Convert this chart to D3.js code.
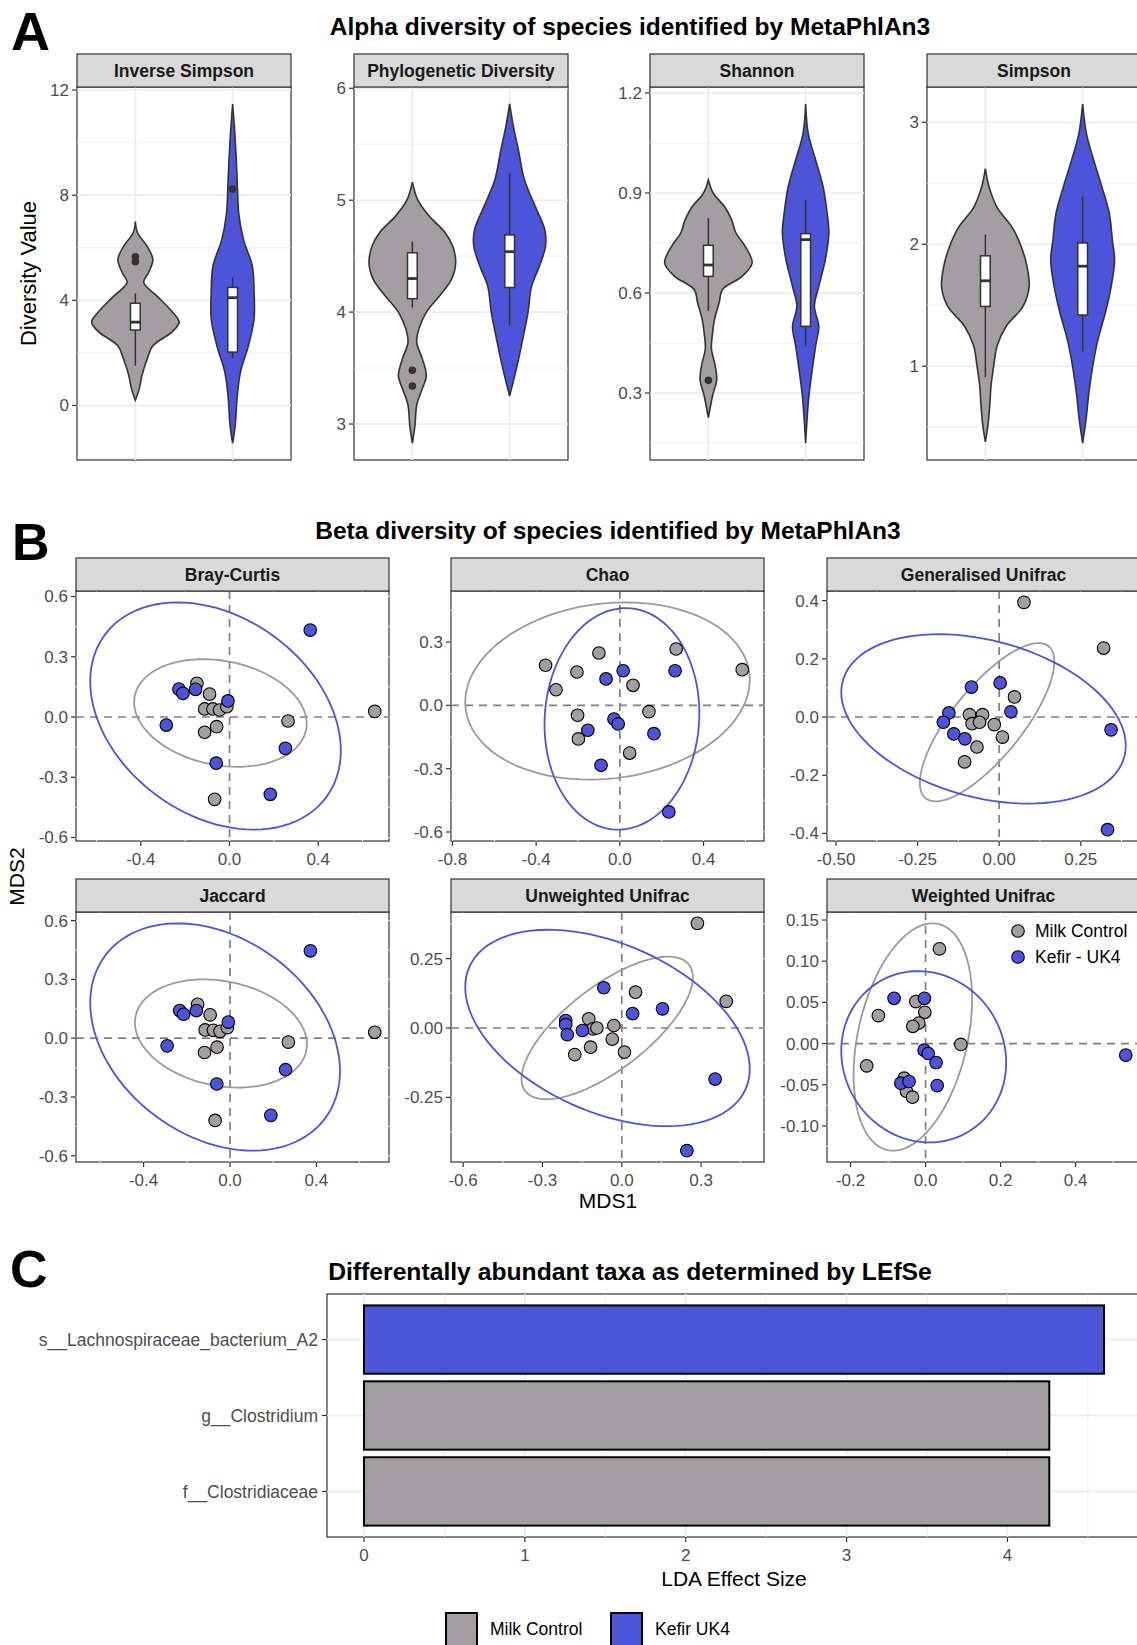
<!DOCTYPE html>
<html>
<head>
<meta charset="utf-8">
<script src="https://cdn.jsdelivr.net/npm/d3@7"></script>
<style>
body { margin: 0; background: #fff; }
text { font-family: "Liberation Sans", Arial, sans-serif; }
</style>
</head>
<body>
<div id="canvas"></div>
<script>
"use strict"

/* ---------- data ---------- */

let groups = ["Milk Control", "Kefir - UK4"];

/* A: alpha diversity */
let alphaMetrics = ["Inverse Simpson", "Phylogenetic Diversity", "Shannon", "Simpson"];
let alphaTicks = [[0, 4, 8, 12], [3, 4, 5, 6], [0.3, 0.6, 0.9, 1.2], [1, 2, 3]];

/* violin outlines: [value, relative density] */
let violinMilk = [
    [[7.0,0],[6.57,0.05],[6.05,0.27],[5.55,0.40],[5.05,0.30],[4.68,0.19],[4.15,0.50],[3.55,0.85],[3.17,1.0],[2.8,0.84],[2.27,0.40],[1.77,0.27],[1.14,0.15],[0.64,0.09],[0.2,0]],
    [[5.16,0],[5.0,0.125],[4.86,0.38],[4.71,0.75],[4.59,0.92],[4.44,0.99],[4.29,0.89],[4.14,0.61],[4.0,0.32],[3.85,0.15],[3.73,0.10],[3.58,0.23],[3.43,0.32],[3.32,0.23],[3.17,0.10],[2.99,0.06],[2.83,0]],
    [[0.939,0],[0.9,0.11],[0.858,0.375],[0.82,0.53],[0.78,0.63],[0.74,0.84],[0.69,1.0],[0.65,0.77],[0.61,0.32],[0.573,0.25],[0.523,0.145],[0.473,0.09],[0.433,0.07],[0.383,0.155],[0.339,0.19],[0.294,0.10],[0.226,0]],
    [[2.62,0],[2.47,0.085],[2.30,0.27],[2.14,0.61],[1.98,0.82],[1.82,0.95],[1.65,1.0],[1.49,0.86],[1.33,0.48],[1.17,0.27],[1.0,0.19],[0.84,0.13],[0.68,0.10],[0.52,0.06],[0.38,0]]
];
let violinKefir = [
    [[11.47,0],[10.34,0.05],[9.3,0.085],[8.3,0.11],[7.3,0.14],[6.3,0.25],[5.3,0.45],[4.3,0.49],[3.3,0.49],[2.27,0.36],[1.28,0.18],[0.26,0.10],[-0.75,0.06],[-1.43,0]],
    [[5.86,0],[5.65,0.09],[5.45,0.2],[5.18,0.34],[4.94,0.59],[4.74,0.80],[4.59,0.82],[4.41,0.68],[4.23,0.5],[4.0,0.42],[3.76,0.30],[3.52,0.17],[3.25,0]],
    [[1.167,0],[1.078,0.06],[0.998,0.23],[0.918,0.40],[0.84,0.49],[0.78,0.53],[0.70,0.45],[0.62,0.30],[0.56,0.20],[0.50,0.30],[0.443,0.23],[0.365,0.145],[0.285,0.07],[0.15,0]],
    [[3.15,0],[2.9,0.09],[2.68,0.26],[2.47,0.44],[2.25,0.61],[2.03,0.68],[1.87,0.73],[1.65,0.65],[1.44,0.52],[1.22,0.35],[1.0,0.23],[0.79,0.145],[0.57,0.08],[0.37,0]]
];

/* box stats: [lower whisker, q1, median, q3, upper whisker] */
let boxMilk = [[1.51, 2.87, 3.17, 3.89, 4.26], [4.04, 4.12, 4.3, 4.53, 4.63], [0.546, 0.65, 0.684, 0.743, 0.825], [0.91, 1.49, 1.70, 1.905, 2.08]];
let boxKefir = [[1.8, 2.03, 4.1, 4.49, 4.87], [3.88, 4.22, 4.54, 4.69, 5.24], [0.44, 0.5, 0.76, 0.778, 0.879], [1.12, 1.42, 1.82, 2.01, 2.39]];
let outliersMilk = [[5.47, 5.66], [3.34, 3.48], [0.338], []];
let outliersKefir = [[8.23], [], [], []];

/* B: beta diversity ordinations */
let betaMethods = ["Bray-Curtis", "Chao", "Generalised Unifrac", "Jaccard", "Unweighted Unifrac", "Weighted Unifrac"];
let betaMilk = [
    [[0.655,0.028],[0.264,-0.02],[-0.067,-0.41],[-0.112,-0.076],[-0.058,-0.048],[-0.112,0.04],[-0.075,0.04],[-0.045,0.035],[-0.012,0.051],[-0.09,0.114],[-0.147,0.168]],
    [[-0.355,0.19],[-0.305,0.074],[-0.205,0.158],[-0.1,0.248],[0.269,0.267],[0.585,0.169],[0.063,0.095],[-0.202,-0.047],[-0.198,-0.159],[0.139,-0.03],[0.047,-0.226]],
    [[0.076,0.394],[0.32,0.237],[0.047,0.069],[-0.091,0.008],[-0.051,0.008],[-0.083,-0.023],[-0.06,-0.018],[-0.015,-0.026],[0.01,-0.069],[-0.068,-0.103],[-0.106,-0.154]],
    [[0.67,0.03],[0.27,-0.02],[-0.069,-0.42],[-0.118,-0.073],[-0.06,-0.046],[-0.115,0.042],[-0.077,0.04],[-0.046,0.035],[-0.012,0.054],[-0.092,0.119],[-0.15,0.173]],
    [[0.286,0.377],[0.395,0.096],[0.052,0.129],[-0.03,0.009],[-0.125,0.033],[-0.109,-0.003],[-0.094,0],[-0.036,-0.04],[-0.118,-0.069],[-0.178,-0.096],[0.01,-0.087]],
    [[0.037,0.115],[-0.126,0.034],[-0.026,0.051],[-0.002,0.038],[-0.018,0.025],[-0.034,0.021],[0.094,-0.001],[-0.157,-0.027],[-0.057,-0.042],[-0.051,-0.058],[-0.035,-0.065]]
];
let betaKefir = [
    [[0.364,0.433],[-0.228,0.139],[-0.21,0.118],[-0.153,0.138],[-0.007,0.08],[-0.285,-0.04],[0.252,-0.156],[-0.06,-0.23],[0.184,-0.385]],
    [[0.016,0.164],[-0.066,0.125],[-0.028,-0.065],[-0.008,-0.088],[-0.153,-0.118],[0.163,-0.134],[-0.09,-0.284],[0.264,0.164],[0.234,-0.505]],
    [[0.003,0.117],[-0.085,0.103],[-0.154,0.014],[-0.171,-0.018],[-0.139,-0.058],[-0.105,-0.075],[0.036,0.018],[0.343,-0.044],[0.332,-0.387]],
    [[0.372,0.446],[-0.233,0.141],[-0.215,0.122],[-0.156,0.141],[-0.008,0.082],[-0.291,-0.039],[0.257,-0.161],[-0.061,-0.234],[0.189,-0.394]],
    [[-0.068,0.145],[0.041,0.052],[0.154,0.069],[-0.212,0.027],[-0.212,0.012],[-0.206,-0.024],[-0.149,-0.009],[0.353,-0.184],[0.246,-0.442]],
    [[-0.084,0.055],[-0.003,0.055],[-0.004,-0.008],[0.007,-0.012],[0.028,-0.023],[-0.066,-0.048],[-0.044,-0.046],[0.031,-0.051],[0.534,-0.014]]
];
/* confidence ellipses: [centre x, centre y, half-width x, half-height y, correlation] */
let ellipseMilk = [[-0.041,0.02,0.389,0.268,-0.2], [-0.059,0.068,0.68,0.42,0.126], [-0.037,-0.018,0.206,0.272,0.765],
                   [-0.042,0.024,0.398,0.276,-0.2], [-0.055,0.0,0.324,0.257,0.71], [-0.034,0.008,0.158,0.138,0.333]];
let ellipseKefir = [[-0.063,0.005,0.565,0.566,-0.304], [0.01,-0.064,0.37,0.525,0.05], [-0.048,-0.0065,0.436,0.291,-0.315],
                    [-0.069,0.006,0.578,0.58,-0.3], [-0.054,0.0,0.538,0.354,-0.416], [-0.005,-0.016,0.22,0.104,-0.068]];
let betaXTicks = [[-0.4,0,0.4], [-0.8,-0.4,0,0.4], [-0.5,-0.25,0,0.25], [-0.4,0,0.4], [-0.6,-0.3,0,0.3], [-0.2,0,0.2,0.4]];
let betaYTicks = [[-0.6,-0.3,0,0.3,0.6], [-0.6,-0.3,0,0.3], [-0.4,-0.2,0,0.2,0.4], [-0.6,-0.3,0,0.3,0.6], [-0.25,0,0.25], [-0.1,-0.05,0,0.05,0.1,0.15]];
let betaXFormat = [".1f", ".1f", ".2f", ".1f", ".1f", ".1f"];
let betaYFormat = [".1f", ".1f", ".1f", ".1f", ".2f", ".2f"];

/* C: LEfSe */
let taxa = ["s__Lachnospiraceae_bacterium_A2", "g__Clostridium", "f__Clostridiaceae"];
let ldaScores = [4.6, 4.26, 4.26];
let taxaGroup = ["Kefir UK4", "Milk Control", "Milk Control"];
let ldaTicks = [0, 1, 2, 3, 4];
let lefseGroups = ["Milk Control", "Kefir UK4"];

/* ---------- styles ---------- */
let milkFill = "#A39EA1";
let kefirFill = "#4D54DA";
let dark = "#333333";
let tickText = "#4D4D4D";

let drawing = d3.select("#canvas")
    .append("svg")
    .attr("width", 1137)
    .attr("height", 1645);

drawing.append("rect")
    .attr("width", 1137)
    .attr("height", 1645)
    .attr("fill", "white");

function label(x, y, str, size, opts) {
    opts = opts || {};
    let t = drawing.append("text")
        .attr("x", x)
        .attr("y", y)
        .attr("font-size", size)
        .attr("fill", opts.fill || "black")
        .attr("font-weight", opts.bold ? "bold" : "normal")
        .attr("text-anchor", opts.anchor || "start")
        .text(str);
    if (opts.rotate) t.attr("transform", "rotate(-90," + x + "," + y + ")");
    if (opts.dy) t.attr("dy", opts.dy);
    return t;
}

function minorTicks(ticks, domain) {
    let step = ticks[1] - ticks[0];
    let out = [];
    for (let v = ticks[0] - step / 2; v <= domain[1] + 1e-9; v += step) {
        if (v >= domain[0]) out.push(v);
    }
    return out;
}

function strip(x, y, w, h, str) {
    drawing.append("rect")
        .attr("x", x).attr("y", y)
        .attr("width", w).attr("height", h)
        .attr("fill", "#D9D9D9")
        .attr("stroke", dark)
        .attr("stroke-width", 1.2);
    label(x + w / 2, y + h / 2, str, 17.5, {bold: true, anchor: "middle", dy: "0.36em", fill: "#1A1A1A"});
}

/* ---------- panel labels and titles ---------- */
label(11, 50, "A", 54, {bold: true});
label(12, 560, "B", 52, {bold: true});
label(10, 1287, "C", 52, {bold: true});
label(630, 35, "Alpha diversity of species identified by MetaPhlAn3", 24.5, {bold: true, anchor: "middle"});
label(608, 539, "Beta diversity of species identified by MetaPhlAn3", 24.5, {bold: true, anchor: "middle"});
label(630, 1280, "Differentally abundant taxa as determined by LEfSe", 24.7, {bold: true, anchor: "middle"});

/* ---------- A: violins ---------- */
let alphaLeft = [77, 354, 650, 927];
let aTop = 87, aBottom = 460, aWidth = 214;

function alphaPanel(i) {
    let left = alphaLeft[i];
    let x = d3.scalePoint().domain(groups).range([left, left + aWidth]).padding(0.6);
    let vals = violinMilk[i].concat(violinKefir[i]).map(d => d[0]);
    let lo = d3.min(vals), hi = d3.max(vals), pad = (hi - lo) * 0.05;
    let y = d3.scaleLinear().domain([lo - pad, hi + pad]).range([aBottom, aTop]);
    let half = x.step() * 0.45;

    drawing.append("rect")
        .attr("x", left).attr("y", aTop)
        .attr("width", aWidth).attr("height", aBottom - aTop)
        .attr("fill", "white")
        .attr("stroke", dark)
        .attr("stroke-width", 1.2);

    let grid = drawing.append("g").attr("stroke", "#EBEBEB");
    grid.selectAll(".minor")
        .data(minorTicks(alphaTicks[i], y.domain()))
        .enter().append("line")
        .attr("x1", left).attr("x2", left + aWidth)
        .attr("y1", d => y(d)).attr("y2", d => y(d))
        .attr("stroke-width", 0.8);
    grid.selectAll(".major")
        .data(alphaTicks[i])
        .enter().append("line")
        .attr("x1", left).attr("x2", left + aWidth)
        .attr("y1", d => y(d)).attr("y2", d => y(d))
        .attr("stroke-width", 1.6);
    grid.selectAll(".vert")
        .data(groups)
        .enter().append("line")
        .attr("x1", d => x(d)).attr("x2", d => x(d))
        .attr("y1", aTop).attr("y2", aBottom)
        .attr("stroke-width", 1.6);

    /* y axis */
    drawing.append("g").selectAll("line")
        .data(alphaTicks[i])
        .enter().append("line")
        .attr("x1", left - 5).attr("x2", left)
        .attr("y1", d => y(d)).attr("y2", d => y(d))
        .attr("stroke", dark)
        .attr("stroke-width", 1.2);
    drawing.append("g").selectAll("text")
        .data(alphaTicks[i])
        .enter().append("text")
        .attr("x", left - 8)
        .attr("y", d => y(d))
        .attr("dy", "0.35em")
        .attr("text-anchor", "end")
        .attr("font-size", 17)
        .attr("fill", tickText)
        .text(d => String(d));

    strip(left, 54, aWidth, aTop - 54, alphaMetrics[i]);

    let sets = [
        {g: groups[0], v: violinMilk[i], b: boxMilk[i], o: outliersMilk[i], fill: milkFill},
        {g: groups[1], v: violinKefir[i], b: boxKefir[i], o: outliersKefir[i], fill: kefirFill}
    ];
    sets.forEach(s => {
        let cx = x(s.g);
        let area = d3.area()
            .y(d => y(d[0]))
            .x0(d => cx - d[1] * half)
            .x1(d => cx + d[1] * half)
            .curve(d3.curveCatmullRom.alpha(0.5));
        drawing.append("path")
            .attr("d", area(s.v))
            .attr("fill", s.fill)
            .attr("stroke", dark)
            .attr("stroke-width", 1.6);

        let bw = x.step() * 0.1;
        drawing.append("line")
            .attr("x1", cx).attr("x2", cx)
            .attr("y1", y(s.b[0])).attr("y2", y(s.b[4]))
            .attr("stroke", dark).attr("stroke-width", 1.5);
        drawing.append("rect")
            .attr("x", cx - bw / 2).attr("width", bw)
            .attr("y", y(s.b[3])).attr("height", y(s.b[1]) - y(s.b[3]))
            .attr("fill", "white")
            .attr("stroke", dark).attr("stroke-width", 1.5);
        drawing.append("line")
            .attr("x1", cx - bw / 2).attr("x2", cx + bw / 2)
            .attr("y1", y(s.b[2])).attr("y2", y(s.b[2]))
            .attr("stroke", dark).attr("stroke-width", 2.8);
        drawing.append("g").selectAll("circle")
            .data(s.o)
            .enter().append("circle")
            .attr("cx", cx).attr("cy", d => y(d))
            .attr("r", 3.8)
            .attr("fill", dark);
    });
}
alphaMetrics.forEach((m, i) => alphaPanel(i));

label(36, (aTop + aBottom) / 2, "Diversity Value", 22, {anchor: "middle", rotate: true});

/* ---------- B: ordinations ---------- */
let betaLeft = [76, 451, 827];
let betaTop = [591, 912];
let bWidth = 313, bHeight = 250;

function ellipsePoints(e) {
    let pts = [];
    for (let k = 0; k <= 100; k++) {
        let t = 2 * Math.PI * k / 100;
        pts.push([e[0] + e[2] * Math.cos(t),
                  e[1] + e[3] * (e[4] * Math.cos(t) + Math.sqrt(1 - e[4] * e[4]) * Math.sin(t))]);
    }
    return pts;
}

function betaPanel(i) {
    let left = betaLeft[i % 3], top = betaTop[Math.floor(i / 3)];
    let ellM = ellipsePoints(ellipseMilk[i]), ellK = ellipsePoints(ellipseKefir[i]);
    let all = betaMilk[i].concat(betaKefir[i], ellM, ellK);
    let xe = d3.extent(all, d => d[0]), ye = d3.extent(all, d => d[1]);
    let xp = (xe[1] - xe[0]) * 0.05, yp = (ye[1] - ye[0]) * 0.05;
    let x = d3.scaleLinear().domain([xe[0] - xp, xe[1] + xp]).range([left, left + bWidth]);
    let y = d3.scaleLinear().domain([ye[0] - yp, ye[1] + yp]).range([top + bHeight, top]);

    drawing.append("rect")
        .attr("x", left).attr("y", top)
        .attr("width", bWidth).attr("height", bHeight)
        .attr("fill", "white")
        .attr("stroke", dark)
        .attr("stroke-width", 1.2);

    /* white grid drawn over the frame, as in the figure */
    let grid = drawing.append("g").attr("stroke", "white").attr("stroke-width", 1);
    let xg = betaXTicks[i].concat(minorTicks(betaXTicks[i], x.domain()));
    let yg = betaYTicks[i].concat(minorTicks(betaYTicks[i], y.domain()));
    grid.selectAll(".gx").data(xg).enter().append("line")
        .attr("x1", d => x(d)).attr("x2", d => x(d))
        .attr("y1", top - 0.5).attr("y2", top + bHeight + 0.5);
    grid.selectAll(".gy").data(yg).enter().append("line")
        .attr("x1", left - 0.5).attr("x2", left + bWidth + 0.5)
        .attr("y1", d => y(d)).attr("y2", d => y(d));

    /* zero reference lines */
    drawing.append("line")
        .attr("x1", x(0)).attr("x2", x(0))
        .attr("y1", top).attr("y2", top + bHeight)
        .attr("stroke", "#7F7F7F").attr("stroke-width", 1.7)
        .attr("stroke-dasharray", "8,6");
    drawing.append("line")
        .attr("x1", left).attr("x2", left + bWidth)
        .attr("y1", y(0)).attr("y2", y(0))
        .attr("stroke", "#7F7F7F").attr("stroke-width", 1.7)
        .attr("stroke-dasharray", "8,6");

    /* axes */
    let fx = d3.format(betaXFormat[i]), fy = d3.format(betaYFormat[i]);
    drawing.append("g").selectAll("line").data(betaXTicks[i]).enter().append("line")
        .attr("x1", d => x(d)).attr("x2", d => x(d))
        .attr("y1", top + bHeight).attr("y2", top + bHeight + 5)
        .attr("stroke", dark).attr("stroke-width", 1.2);
    drawing.append("g").selectAll("text").data(betaXTicks[i]).enter().append("text")
        .attr("x", d => x(d)).attr("y", top + bHeight + 23.5)
        .attr("text-anchor", "middle")
        .attr("font-size", 17).attr("fill", tickText)
        .text(d => fx(d).replace("−", "-"));
    drawing.append("g").selectAll("line").data(betaYTicks[i]).enter().append("line")
        .attr("x1", left - 5).attr("x2", left)
        .attr("y1", d => y(d)).attr("y2", d => y(d))
        .attr("stroke", dark).attr("stroke-width", 1.2);
    drawing.append("g").selectAll("text").data(betaYTicks[i]).enter().append("text")
        .attr("x", left - 8).attr("y", d => y(d))
        .attr("dy", "0.35em")
        .attr("text-anchor", "end")
        .attr("font-size", 17).attr("fill", tickText)
        .text(d => fy(d).replace("−", "-"));

    strip(left, top - 33, bWidth, 33, betaMethods[i]);

    let line = d3.line().x(d => x(d[0])).y(d => y(d[1]));
    drawing.append("path").attr("d", line(ellM))
        .attr("fill", "none").attr("stroke", "#9A9A9A").attr("stroke-width", 1.8);
    drawing.append("path").attr("d", line(ellK))
        .attr("fill", "none").attr("stroke", kefirFill).attr("stroke-width", 1.8);

    drawing.append("g").selectAll("circle").data(betaMilk[i]).enter().append("circle")
        .attr("cx", d => x(d[0])).attr("cy", d => y(d[1]))
        .attr("r", 6.3)
        .attr("fill", milkFill).attr("stroke", "black").attr("stroke-width", 1.1);
    drawing.append("g").selectAll("circle").data(betaKefir[i]).enter().append("circle")
        .attr("cx", d => x(d[0])).attr("cy", d => y(d[1]))
        .attr("r", 6.3)
        .attr("fill", kefirFill).attr("stroke", "black").attr("stroke-width", 1.1);
}
betaMethods.forEach((m, i) => betaPanel(i));

/* legend inside the Weighted Unifrac panel */
groups.forEach((g, k) => {
    drawing.append("circle")
        .attr("cx", 1018).attr("cy", 931 + k * 26)
        .attr("r", 6.3)
        .attr("fill", k === 0 ? milkFill : kefirFill)
        .attr("stroke", "black").attr("stroke-width", 1.1);
    label(1035, 937 + k * 26, g, 17.5);
});

label(608, 1208, "MDS1", 21, {anchor: "middle"});
label(23.5, 876.5, "MDS2", 21, {anchor: "middle", rotate: true});

/* ---------- C: LEfSe bars ---------- */
let cLeft = 327, cRight = 1141, cTop = 1294, cBottom = 1537;
let ldaPad = d3.max(ldaScores) * 0.05;
let xC = d3.scaleLinear().domain([-ldaPad, d3.max(ldaScores) + ldaPad]).range([cLeft, cRight]);
let yC = d3.scaleBand().domain(taxa).range([cTop, cBottom]).paddingInner(0.1).paddingOuter(0.15);
let colourC = d3.scaleOrdinal().domain(lefseGroups).range([milkFill, kefirFill]);

drawing.append("rect")
    .attr("x", cLeft).attr("y", cTop)
    .attr("width", cRight - cLeft).attr("height", cBottom - cTop)
    .attr("fill", "white")
    .attr("stroke", dark).attr("stroke-width", 1.2);

let gridC = drawing.append("g").attr("stroke", "#EBEBEB");
gridC.selectAll(".minor").data(minorTicks(ldaTicks, xC.domain())).enter().append("line")
    .attr("x1", d => xC(d)).attr("x2", d => xC(d))
    .attr("y1", cTop).attr("y2", cBottom)
    .attr("stroke-width", 0.8);
gridC.selectAll(".major").data(ldaTicks).enter().append("line")
    .attr("x1", d => xC(d)).attr("x2", d => xC(d))
    .attr("y1", cTop).attr("y2", cBottom)
    .attr("stroke-width", 1.6);
gridC.selectAll(".cat").data(taxa).enter().append("line")
    .attr("x1", cLeft).attr("x2", cRight)
    .attr("y1", d => yC(d) + yC.bandwidth() / 2).attr("y2", d => yC(d) + yC.bandwidth() / 2)
    .attr("stroke-width", 1.6);

drawing.append("g").selectAll("rect").data(taxa).enter().append("rect")
    .attr("x", xC(0))
    .attr("y", d => yC(d))
    .attr("width", (d, k) => xC(ldaScores[k]) - xC(0))
    .attr("height", yC.bandwidth())
    .attr("fill", (d, k) => colourC(taxaGroup[k]))
    .attr("stroke", "black").attr("stroke-width", 2);

drawing.append("g").selectAll("line").data(ldaTicks).enter().append("line")
    .attr("x1", d => xC(d)).attr("x2", d => xC(d))
    .attr("y1", cBottom).attr("y2", cBottom + 5)
    .attr("stroke", dark).attr("stroke-width", 1.2);
drawing.append("g").selectAll("text").data(ldaTicks).enter().append("text")
    .attr("x", d => xC(d)).attr("y", cBottom + 24)
    .attr("text-anchor", "middle")
    .attr("font-size", 17).attr("fill", tickText)
    .text(d => String(d));
drawing.append("g").selectAll("line").data(taxa).enter().append("line")
    .attr("x1", cLeft - 5).attr("x2", cLeft)
    .attr("y1", d => yC(d) + yC.bandwidth() / 2).attr("y2", d => yC(d) + yC.bandwidth() / 2)
    .attr("stroke", dark).attr("stroke-width", 1.2);
drawing.append("g").selectAll("text").data(taxa).enter().append("text")
    .attr("x", cLeft - 9).attr("y", d => yC(d) + yC.bandwidth() / 2)
    .attr("dy", "0.35em")
    .attr("text-anchor", "end")
    .attr("font-size", 17.5).attr("fill", tickText)
    .text(d => d);

label(734, 1586, "LDA Effect Size", 21, {anchor: "middle"});

/* legend under the bars */
let legendX = [446, 611];
lefseGroups.forEach((g, k) => {
    drawing.append("rect")
        .attr("x", legendX[k]).attr("y", 1613)
        .attr("width", 31).attr("height", 34)
        .attr("fill", colourC(g))
        .attr("stroke", "black").attr("stroke-width", 2);
    label(legendX[k] + 44, 1635, g, 17.5);
});
</script>
</body>
</html>
